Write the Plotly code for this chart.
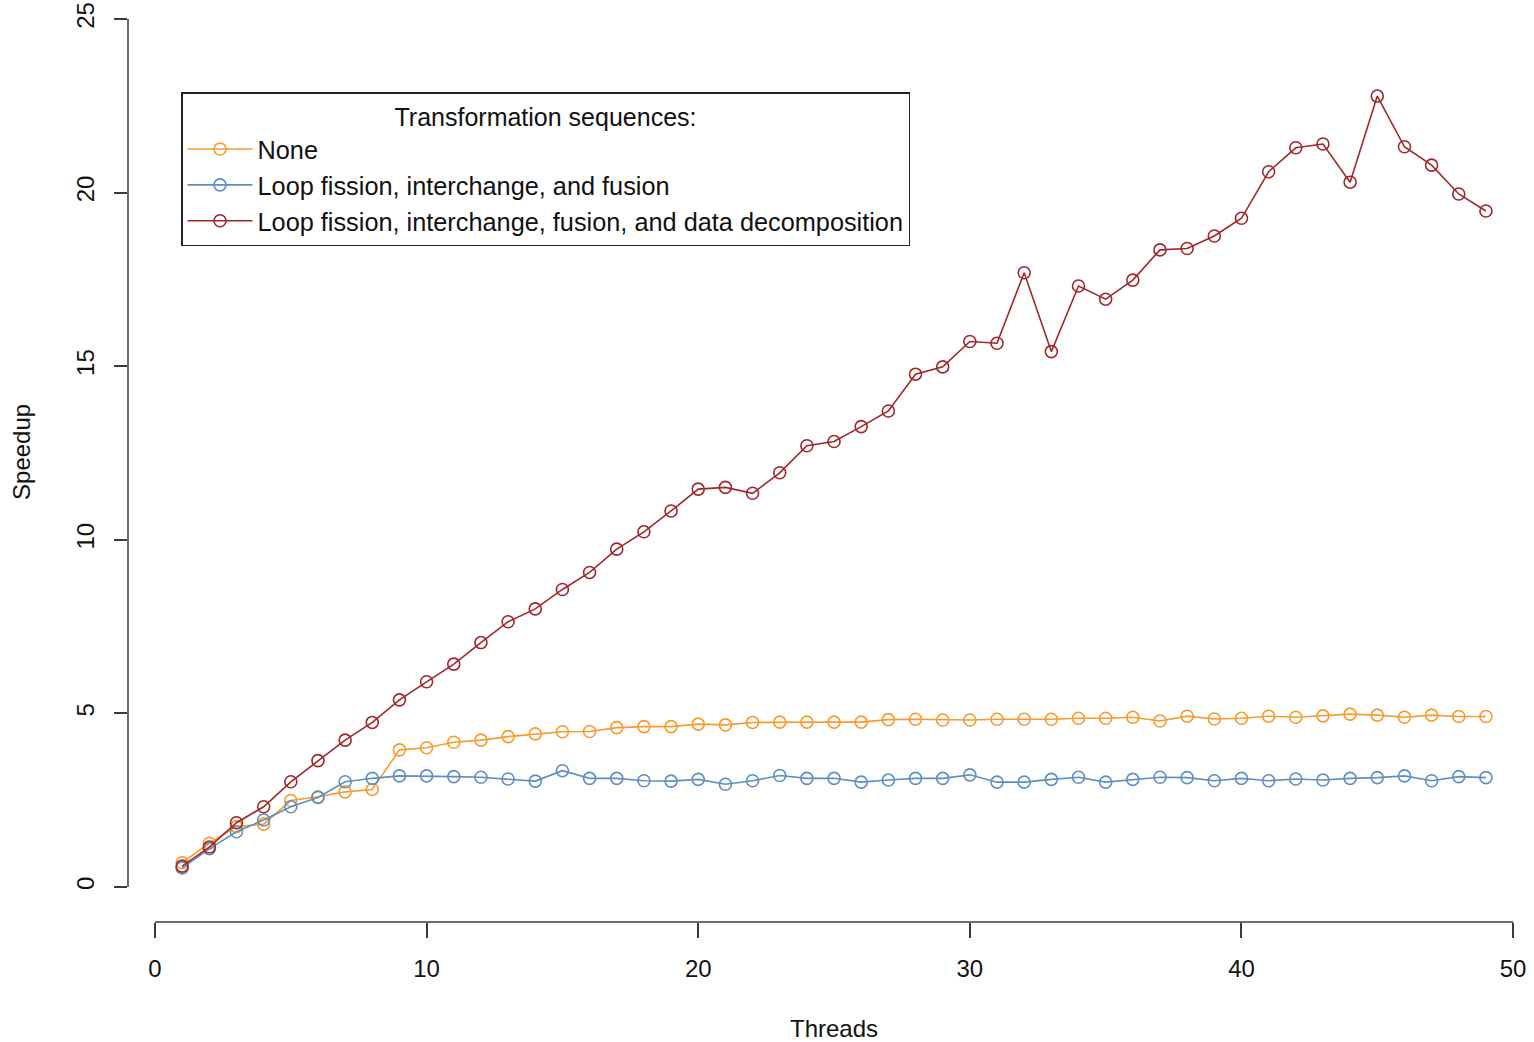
import plotly.graph_objects as go

threads = list(range(1, 50))

speedup_none = [0.70, 1.26, 1.74, 1.81, 2.49, 2.60, 2.74, 2.81, 3.95, 4.01,
                4.17, 4.23, 4.33, 4.41, 4.47, 4.48, 4.59, 4.62, 4.62, 4.69,
                4.67, 4.74, 4.75, 4.75, 4.75, 4.75, 4.82, 4.83, 4.81, 4.81,
                4.83, 4.83, 4.83, 4.86, 4.86, 4.89, 4.78, 4.92, 4.84, 4.86,
                4.92, 4.89, 4.93, 4.98, 4.95, 4.89, 4.95, 4.91, 4.91]

speedup_fif = [0.55, 1.10, 1.59, 1.93, 2.31, 2.58, 3.03, 3.13, 3.20, 3.20,
               3.18, 3.16, 3.11, 3.05, 3.35, 3.13, 3.13, 3.06, 3.05, 3.10,
               2.96, 3.06, 3.21, 3.13, 3.13, 3.02, 3.08, 3.13, 3.13, 3.23,
               3.02, 3.02, 3.10, 3.16, 3.02, 3.10, 3.16, 3.15, 3.06, 3.13,
               3.06, 3.11, 3.08, 3.13, 3.15, 3.20, 3.06, 3.18, 3.15]

speedup_fifd = [0.60, 1.15, 1.85, 2.31, 3.03, 3.64, 4.23, 4.74, 5.39, 5.91,
                6.42, 7.04, 7.64, 8.01, 8.57, 9.06, 9.73, 10.23, 10.83, 11.46,
                11.51, 11.34, 11.93, 12.71, 12.83, 13.26, 13.71, 14.77, 14.98, 15.71,
                15.66, 17.69, 15.42, 17.31, 16.93, 17.48, 18.35, 18.39, 18.75, 19.26,
                20.60, 21.29, 21.40, 20.30, 22.78, 21.32, 20.79, 19.96, 19.47]

series_names = ["None",
                "Loop fission, interchange, and fusion",
                "Loop fission, interchange, fusion, and data decomposition"]
series_values = [speedup_none, speedup_fif, speedup_fifd]
series_colors = ["#F99A2C", "#5F8FC2", "#A2272B"]

x_ticks = [0, 10, 20, 30, 40, 50]
y_ticks = [0, 5, 10, 15, 20, 25]

FONT = "Liberation Sans, Arial, Helvetica, sans-serif"
AXC = "#3a3a3a"

fig = go.Figure()
for name, vals, col in zip(series_names, series_values, series_colors):
    fig.add_trace(go.Scatter(
        x=threads, y=vals, name=name, mode="lines+markers",
        line=dict(color=col, width=1.6),
        marker=dict(symbol="circle-open", size=12, color=col, line=dict(width=1.6, color=col)),
    ))

fig.update_layout(
    width=1534, height=1042,
    margin=dict(l=128, r=0, t=0, b=120),
    paper_bgcolor="white", plot_bgcolor="white",
    font=dict(family=FONT, size=25, color="#111"),
    showlegend=True,
    legend=dict(
        x=0.0377, y=0.9002, xanchor="left", yanchor="top",
        bordercolor="#222", borderwidth=1.5, bgcolor="white",
        font=dict(family=FONT, size=25.3, color="#111"),
        title=dict(text="Transformation sequences:", side="top center",
                   font=dict(family=FONT, size=25, color="#111")),
        itemwidth=65, tracegroupgap=0,
    ),
    xaxis=dict(
        range=[-0.994, 50.77], tickvals=x_ticks, ticks="outside", ticklen=15,
        tickwidth=1.5, tickcolor=AXC, showgrid=False, zeroline=False, showline=False,
        tickfont=dict(family=FONT, size=24, color="#111"), ticklabelstandoff=10,
        ticklabeloverflow="allow", automargin=False,
    ),
    yaxis=dict(
        range=[-1.008, 25.547], tickvals=y_ticks, ticks="outside", ticklen=13,
        tickwidth=1.5, tickcolor=AXC, showgrid=False, zeroline=False, showline=False,
        tickangle=-90, tickfont=dict(family=FONT, size=24, color="#111"), ticklabelstandoff=10,
        ticklabeloverflow="allow", automargin=False,
    ),
    annotations=[
        dict(text="Threads", xref="paper", yref="paper", x=0.502, y=-0.115,
             xanchor="center", yanchor="middle", showarrow=False,
             font=dict(family=FONT, size=24, color="#111")),
        dict(text="Speedup", xref="paper", yref="paper", x=-0.0754, y=0.5098,
             xanchor="center", yanchor="middle", showarrow=False, textangle=-90,
             font=dict(family=FONT, size=24, color="#111")),
    ],
    shapes=[
        dict(type="line", xref="x", yref="paper", x0=x_ticks[0], x1=x_ticks[-1], y0=0, y1=0,
             line=dict(color=AXC, width=1.5)),
        dict(type="line", xref="paper", yref="y", x0=0, x1=0, y0=y_ticks[0], y1=y_ticks[-1],
             line=dict(color=AXC, width=1.5)),
    ],
)

fig.write_html("out.html", config={"displayModeBar": False},
               post_script="document.body.style.margin='0';document.body.style.overflow='hidden';")
